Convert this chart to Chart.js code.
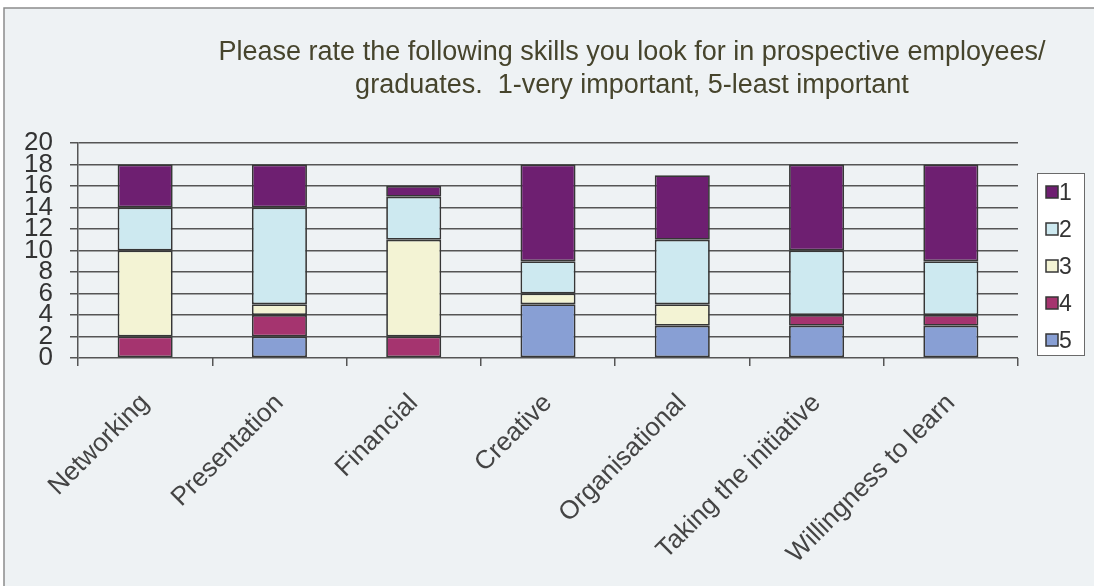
<!DOCTYPE html>
<html>
<head>
<meta charset="utf-8">
<script src="https://cdn.jsdelivr.net/npm/chart.js@4"></script>
<style>
  body { margin: 0; background: #fff; }
  canvas { display: block; }
</style>
</head>
<body>
<canvas id="skills_chart" width="1094" height="586"></canvas>
<script>
// skills survey, counts per rating (1 = very important ... 5 = least important)
const categories = ['Networking', 'Presentation', 'Financial', 'Creative', 'Organisational', 'Taking the initiative', 'Willingness to learn'];
const rating1 = [4, 4, 1, 9, 6, 8, 9];
const rating2 = [4, 9, 4, 3, 6, 6, 5];
const rating3 = [8, 1, 9, 1, 2, 0, 0];
const rating4 = [2, 2, 2, 0, 0, 1, 1];
const rating5 = [0, 2, 0, 5, 3, 3, 3];
const yTicks = [0, 2, 4, 6, 8, 10, 12, 14, 16, 18, 20];
const titleLines = ['Please rate the following skills you look for in prospective employees/', 'graduates.  1-very important, 5-least important'];

const FONT = "'Liberation Sans', Arial, sans-serif";

function makeSet(label, data, color) {
    return {
        label: label,
        data: data,
        backgroundColor: color,
        borderColor: '#363636',
        borderWidth: 1.75,
        borderSkipped: false,
        barPercentage: 0.41,
        categoryPercentage: 1.0
    };
}

// frame, title and boxed legend
const decor = {
    id: 'decor',
    beforeDraw(chart) {
        let ctx = chart.ctx;
        ctx.save();
        ctx.fillStyle = '#ffffff';
        ctx.fillRect(0, 0, chart.width, chart.height);
        ctx.fillStyle = '#eef2f4';
        ctx.fillRect(4, 8, chart.width - 4, chart.height - 8);
        ctx.strokeStyle = '#8c8c8c';
        ctx.lineWidth = 1.5;
        ctx.beginPath();
        ctx.moveTo(4, chart.height);
        ctx.lineTo(4, 8);
        ctx.lineTo(chart.width, 8);
        ctx.stroke();
        ctx.restore();
    },
    afterDraw(chart) {
        let ctx = chart.ctx;
        ctx.save();
        // title, two centred lines
        ctx.fillStyle = '#46442c';
        ctx.font = '27px ' + FONT;
        ctx.textAlign = 'center';
        ctx.textBaseline = 'alphabetic';
        ctx.fillText(titleLines[0], 632, 60);
        ctx.fillText(titleLines[1], 632, 93);

        // legend, 1 on top
        let lx = 1037, ly = 173, lw = 47, lh = 182;
        ctx.fillStyle = '#ffffff';
        ctx.fillRect(lx, ly, lw, lh);
        ctx.strokeStyle = '#6a6a6a';
        ctx.lineWidth = 1;
        ctx.strokeRect(lx + 0.5, ly + 0.5, lw, lh);
        let sets = chart.data.datasets.slice().reverse();
        ctx.font = '23px ' + FONT;
        ctx.textAlign = 'left';
        ctx.textBaseline = 'middle';
        sets.forEach((ds, i) => {
            let cy = 192 + i * 37;
            ctx.fillStyle = ds.backgroundColor;
            ctx.fillRect(1046, cy - 6, 12, 12);
            ctx.strokeStyle = '#363636';
            ctx.lineWidth = 1.5;
            ctx.strokeRect(1046, cy - 6, 12, 12);
            ctx.fillStyle = '#333';
            ctx.fillText(ds.label, 1059, cy + 2);
        });
        ctx.restore();
    }
};

new Chart('skills_chart', {
    type: 'bar',
    data: {
        labels: categories,
        datasets: [
            makeSet('5', rating5, '#889fd4'),
            makeSet('4', rating4, '#a5346f'),
            makeSet('3', rating3, '#f3f3d4'),
            makeSet('2', rating2, '#cde9f0'),
            makeSet('1', rating1, '#6e1f71')
        ]
    },
    options: {
        responsive: false,
        animation: false,
        layout: { padding: { left: 0, top: 143, right: 76, bottom: 0 } },
        plugins: {
            legend: { display: false },
            title: { display: false },
            tooltip: { enabled: false }
        },
        scales: {
            x: {
                stacked: true,
                afterFit(scale) { scale.height = 228; },
                grid: { display: true, drawOnChartArea: false, drawTicks: true, tickLength: 8, color: '#555', lineWidth: 1.5 },
                border: { display: false },
                ticks: {
                    minRotation: 45,
                    maxRotation: 45,
                    autoSkip: false,
                    padding: 22,
                    color: '#444',
                    font: { family: FONT, size: 26 }
                }
            },
            y: {
                stacked: true,
                min: 0,
                max: 20,
                afterFit(scale) { scale.width = 78; },
                afterBuildTicks(scale) { scale.ticks = yTicks.map(v => ({ value: v })); },
                grid: { color: '#555', lineWidth: 1.5, tickLength: 8 },
                border: { color: '#555', width: 1.5 },
                ticks: {
                    autoSkip: false,
                    padding: 17,
                    color: '#333',
                    font: { family: FONT, size: 26 }
                }
            }
        }
    },
    plugins: [decor]
});
</script>
</body>
</html>
